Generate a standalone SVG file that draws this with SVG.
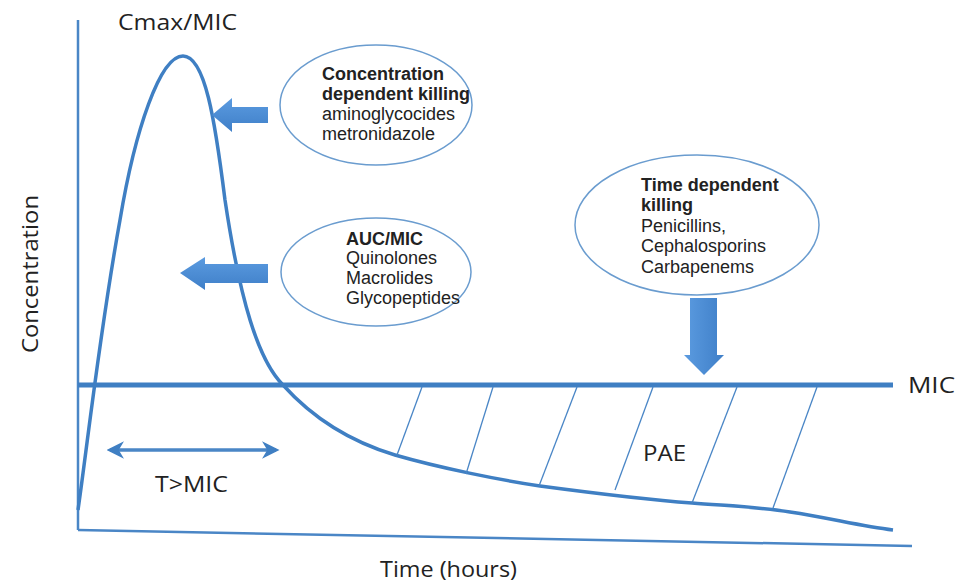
<svg xmlns="http://www.w3.org/2000/svg" width="964" height="588" viewBox="0 0 964 588">
<defs>
<linearGradient id="ag" x1="0" y1="0" x2="0" y2="1">
<stop offset="0" stop-color="#5b9be0"/><stop offset="1" stop-color="#3f7fc8"/>
</linearGradient>
<linearGradient id="agv" x1="0" y1="0" x2="1" y2="0">
<stop offset="0" stop-color="#5b9be0"/><stop offset="1" stop-color="#3f7fc8"/>
</linearGradient>
<marker id="ah" viewBox="0 0 10 10" refX="8" refY="5" markerWidth="5" markerHeight="5" orient="auto-start-reverse">
<path d="M0,0 L10,5 L0,10 L3,5 z" fill="#3f7fc3"/>
</marker>
</defs>
<style>
.ax{stroke:#4a86c6;stroke-width:2.5;fill:none}
.mic{stroke:#3f7fc3;stroke-width:5;fill:none}
.cur{stroke:#3f7fc3;stroke-width:3.5;fill:none}
.hat{stroke:#4a86c6;stroke-width:1.3;fill:none}
.ell{fill:#fff;stroke:#6a9ccf;stroke-width:1.5}
.lbl{font-family:"Open Sans","Liberation Sans",sans-serif;font-size:21px;fill:#222}
.t{font-family:"Liberation Sans",Arial,sans-serif;font-size:18px;fill:#222}
.b{font-weight:bold}
</style>
<rect width="964" height="588" fill="#fff"/>
<g id="axes">
<line class="ax" x1="78" y1="20" x2="78" y2="530"/>
<line class="ax" x1="78" y1="530" x2="912" y2="546"/>
</g>
<g id="connectors">
<line class="mic" x1="78" y1="385" x2="893" y2="385"/>
<path class="cur" d="M78,510 C88,440 100,330 120,220 C135,130 160,56 183,56 C205,56 215,120 225,200 C240,300 258,360 283,385 C310,415 345,440 395,455 C440,468 500,480 540,486 C600,494 650,500 692,503 C730,506 760,507 790,512 C830,518 860,526 893,530"/>
<line class="hat" x1="422" y1="387" x2="397" y2="455"/>
<line class="hat" x1="493" y1="387" x2="466" y2="474"/>
<line class="hat" x1="577" y1="387" x2="539" y2="486"/>
<line class="hat" x1="653" y1="387" x2="615" y2="490"/>
<line class="hat" x1="737" y1="387" x2="692" y2="503"/>
<line class="hat" x1="817" y1="387" x2="773" y2="508"/>
<line stroke="#4a86c6" stroke-width="3.5" x1="110" y1="450" x2="276" y2="450" marker-start="url(#ah)" marker-end="url(#ah)"/>
<polygon fill="url(#ag)" points="212,115 232,98 232,107 268,107 268,123 232,123 232,132"/>
<polygon fill="url(#ag)" points="180,273 205,257 205,264 268,264 268,283 205,283 205,290"/>
<polygon fill="url(#agv)" points="690,298 717,298 717,355 724,355 704,375 684,355 690,355"/>
</g>
<g id="node-concentration">
<ellipse class="ell" cx="376" cy="105" rx="96" ry="60"/>
<text class="t b" x="322" y="80">Concentration</text>
<text class="t b" x="322" y="100">dependent killing</text>
<text class="t" x="322" y="120">aminoglycocides</text>
<text class="t" x="322" y="140">metronidazole</text>
</g>
<g id="node-auc">
<ellipse class="ell" cx="376" cy="272" rx="95" ry="54"/>
<text class="t b" x="346" y="245">AUC/MIC</text>
<text class="t" x="346" y="264">Quinolones</text>
<text class="t" x="346" y="284">Macrolides</text>
<text class="t" x="346" y="304">Glycopeptides</text>
</g>
<g id="node-time">
<ellipse class="ell" cx="697" cy="225" rx="122" ry="70"/>
<text class="t b" x="641" y="191">Time dependent</text>
<text class="t b" x="641" y="211">killing</text>
<text class="t" x="641" y="232">Penicillins,</text>
<text class="t" x="641" y="252">Cephalosporins</text>
<text class="t" x="641" y="273">Carbapenems</text>
</g>
<g id="labels">
<text class="lbl" x="118" y="30" textLength="119" lengthAdjust="spacingAndGlyphs">Cmax/MIC</text>
<text class="lbl" x="908" y="393" textLength="47" lengthAdjust="spacingAndGlyphs">MIC</text>
<text class="lbl" x="643" y="461" textLength="43" lengthAdjust="spacingAndGlyphs">PAE</text>
<text class="lbl" x="155" y="492" textLength="73" lengthAdjust="spacingAndGlyphs">T&gt;MIC</text>
<text class="lbl" x="380" y="577" textLength="137" lengthAdjust="spacingAndGlyphs">Time (hours)</text>
<text class="lbl" x="-79" y="0" textLength="158" lengthAdjust="spacingAndGlyphs" transform="translate(38 274) rotate(-90)">Concentration</text>
</g>
</svg>
